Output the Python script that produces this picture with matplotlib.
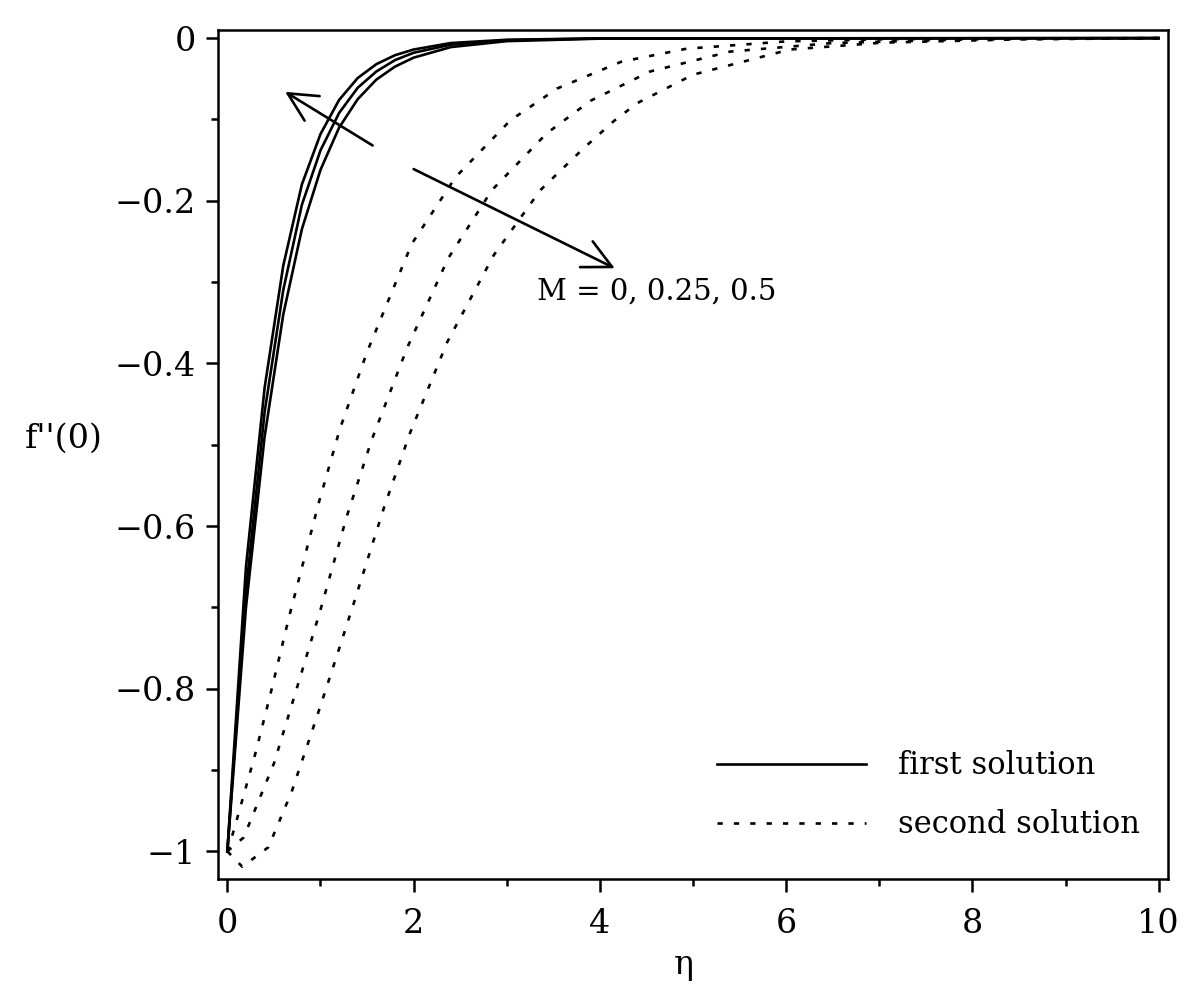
import numpy as np
import matplotlib
matplotlib.use("Agg")
import matplotlib.pyplot as plt

plt.rcParams['font.family'] = ['DejaVu Serif']

# first solution, three values of M
eta_first = [0, 0.2, 0.4, 0.6, 0.8, 1.0, 1.2, 1.4, 1.6, 1.8, 2.0, 2.4, 3.0, 4.0, 10.0]
first_a = [-1, -0.65, -0.43, -0.28, -0.18, -0.118, -0.076, -0.049, -0.032, -0.021, -0.014, -0.006, -0.002, -0.0003, 0]
first_b = [-1, -0.68, -0.46, -0.31, -0.205, -0.138, -0.092, -0.061, -0.041, -0.027, -0.018, -0.008, -0.0025, -0.0004, 0]
first_c = [-1, -0.70, -0.49, -0.34, -0.235, -0.162, -0.11, -0.075, -0.051, -0.035, -0.024, -0.011, -0.0037, -0.0006, 0]

# second solution
eta_sec_a = [0, 0.07, 0.3, 0.46, 0.66, 0.98, 1.21, 1.5, 1.98, 2.45, 3.04, 3.54, 4.23, 4.93, 6.0, 7.0, 8.0, 10.0]
sec_a = [-1, -0.974, -0.88, -0.808, -0.713, -0.572, -0.48, -0.386, -0.253, -0.171, -0.101, -0.062, -0.029, -0.013, -0.004, -0.0015, -0.0005, 0]
eta_sec_b = [0, 0.175, 0.5, 0.75, 1.0, 1.28, 1.55, 1.93, 2.37, 2.84, 3.43, 3.9, 4.54, 5.4, 6.5, 8.0, 10.0]
sec_b = [-1, -0.983, -0.892, -0.798, -0.703, -0.589, -0.494, -0.381, -0.271, -0.187, -0.117, -0.077, -0.041, -0.0165, -0.006, -0.0015, 0]
eta_sec_c = [0, 0.16, 0.44, 0.69, 0.96, 1.16, 1.36, 1.68, 1.96, 2.36, 2.86, 3.36, 3.82, 4.15, 4.4, 5.0, 6.04, 7.04, 8.5, 10.0]
sec_c = [-1, -1.019, -0.995, -0.927, -0.835, -0.765, -0.694, -0.578, -0.486, -0.374, -0.267, -0.187, -0.136, -0.102, -0.08, -0.045, -0.014, -0.0055, -0.0015, 0]

fig = plt.figure(figsize=(12, 9.97), dpi=100)
ax = fig.add_axes([0.1817, 0.1184, 0.7916, 0.8515])

lw = 1.9
dots = (0, (2, 4.2))
ax.plot(eta_first, first_a, color='black', lw=lw, label='first solution')
ax.plot(eta_first, first_b, color='black', lw=lw)
ax.plot(eta_first, first_c, color='black', lw=lw)
ax.plot(eta_sec_a, sec_a, color='black', lw=lw, linestyle=dots, label='second solution')
ax.plot(eta_sec_b, sec_b, color='black', lw=lw, linestyle=dots)
ax.plot(eta_sec_c, sec_c, color='black', lw=lw, linestyle=dots)

ax.set_xlim(-0.1, 10.1)
ax.set_ylim(-1.034, 0.01)
ax.set_xticks([0, 2, 4, 6, 8, 10])
ax.set_xticks([1, 3, 5, 7, 9], minor=True)
ax.set_yticks([-1, -0.8, -0.6, -0.4, -0.2, 0])
ax.set_yticklabels(['\u22121', '\u22120.8', '\u22120.6', '\u22120.4', '\u22120.2', '0'])
ax.set_yticks([-0.9, -0.7, -0.5, -0.3, -0.1], minor=True)
ax.tick_params(which='both', direction='out', width=1.8, labelsize=24)
ax.tick_params(axis='y', which='major', pad=7)
ax.tick_params(axis='x', which='major', pad=12)
ax.tick_params(which='major', length=9)
ax.tick_params(which='minor', length=5)
for s in ax.spines.values():
    s.set_linewidth(1.8)

ax.set_xlabel('\u03b7', fontsize=24, labelpad=0)
ax.xaxis.set_label_coords(0.49, -0.083)
ax.set_ylabel("f''(0)", fontsize=24, rotation=0)
ax.yaxis.set_label_coords(-0.162, 0.5)

arrow = dict(arrowstyle='->, head_length=0.9, head_width=0.45', lw=lw,
             color='black', mutation_scale=23, shrinkA=0, shrinkB=0)
ax.annotate('', xy=(0.62, -0.066), xytext=(1.56, -0.132), arrowprops=arrow)
ax.annotate('', xy=(4.16, -0.283), xytext=(2.0, -0.161), arrowprops=arrow)
ax.text(3.33, -0.312, 'M = 0, 0.25, 0.5', fontsize=21, va='center', ha='left')

ax.legend(loc='lower right', frameon=False, fontsize=22, handlelength=4.9,
          handletextpad=1.05, labelspacing=0.92, bbox_to_anchor=(1.0, 0.013))

fig.savefig('out.png', dpi=100)
